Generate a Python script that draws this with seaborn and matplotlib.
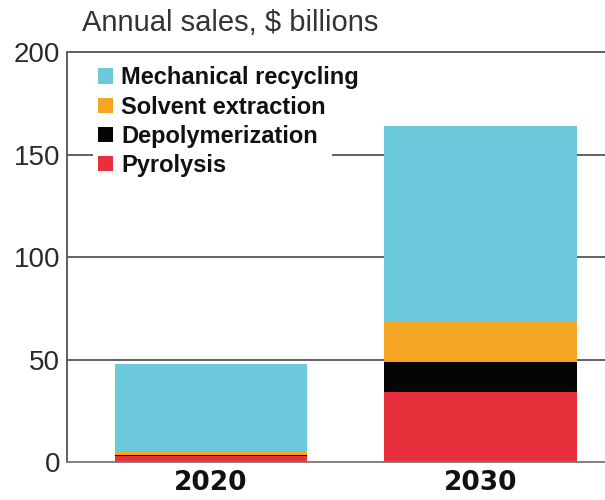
import matplotlib
matplotlib.use("Agg")
import matplotlib.pyplot as plt
from matplotlib.patches import Patch, Rectangle
import seaborn as sns
import pandas as pd
import numpy as np

years = ["2020", "2030"]
series = ["Pyrolysis", "Depolymerization", "Solvent extraction", "Mechanical recycling"]
pyrolysis = [3.0, 34.0]
depolymerization = [0.6, 15.0]
solvent_extraction = [1.2, 20.0]
mechanical_recycling = [43.0, 95.0]
colors = {"Mechanical recycling": "#6CC9DB", "Solvent extraction": "#F5A623",
          "Depolymerization": "#050505", "Pyrolysis": "#E8303C"}
yticks = [0, 50, 100, 150, 200]

sns.set_theme(style="white")
plt.rcParams['font.family'] = ['Liberation Sans', 'DejaVu Sans']

values = [pyrolysis, depolymerization, solvent_extraction, mechanical_recycling]
cum = np.cumsum(np.array(values), axis=0)

fig = plt.figure(figsize=(6.05, 5.0), dpi=100)
ax = fig.add_axes([0.111, 0.076, 0.889, 0.824])

for ycol in yticks[1:]:
    ax.axhline(ycol, color="#555555", lw=1.3, zorder=0)

for i in range(len(series) - 1, -1, -1):
    df = pd.DataFrame({"year": years, "value": cum[i]})
    sns.barplot(data=df, x="year", y="value", color=colors[series[i]],
                width=0.715, saturation=1, ax=ax, zorder=2, edgecolor="none")

ax.set_xlim(-0.533, 1.46)
ax.set_ylim(0, 201)
ax.set_yticks(yticks)
ax.set_yticklabels([str(t) for t in yticks], fontsize=20, color="#2a2a2a")
for lab in ax.get_xticklabels():
    lab.set_fontsize(19)
    lab.set_fontweight("bold")
    lab.set_family(["DejaVu Sans"])
    lab.set_color("#111111")
ax.set_xlabel("")
ax.set_ylabel("")
ax.tick_params(axis="y", length=0, pad=5)
ax.tick_params(axis="x", length=0, pad=6)
for s in ["top", "right"]:
    ax.spines[s].set_visible(False)
ax.spines["left"].set_color("#555555")
ax.spines["left"].set_linewidth(1.3)
ax.spines["bottom"].set_color("#777777")
ax.spines["bottom"].set_linewidth(1.3)
ax.spines["left"].set_bounds(0, 200)

# white box behind legend (interrupts the gridline)
ax.add_patch(Rectangle((0.048, 0.66), 0.445, 0.32, transform=ax.transAxes,
                       facecolor="white", edgecolor="none", zorder=1))

handles = [Patch(facecolor=colors[s], edgecolor="none") for s in series[::-1]]
leg = ax.legend(handles, series[::-1], loc="upper left", bbox_to_anchor=(0.058, 0.96),
                frameon=False,
                handlelength=0.64, handleheight=0.64, handletextpad=0.34,
                labelspacing=0.26, borderpad=0.0, borderaxespad=0.0,
                prop={"family": "Liberation Sans", "weight": "bold", "size": 17})
for t in leg.get_texts():
    t.set_color("#111111")
leg.set_zorder(5)

fig.text(0.136, 0.954, "Annual sales, $ billions", fontsize=21,
         color="#333333", ha="left", va="center")

fig.savefig("out.png", dpi=100, facecolor="white")
